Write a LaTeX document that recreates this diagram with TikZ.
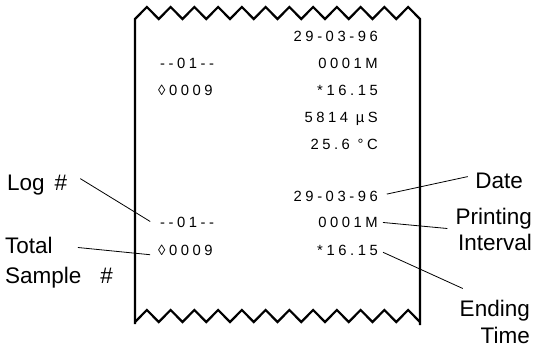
\documentclass[tikz,border=0pt]{standalone}
\usepackage{fontspec}
\setmainfont{Liberation Sans}
\newfontfamily\tapefont[LetterSpace=24]{Liberation Sans}
\usetikzlibrary{positioning}

\tikzset{
  paper/.style={line width=2.2pt, line join=miter},
  printed/.style={font=\tapefont\fontsize{14.8}{17}\selectfont, inner sep=0pt, text height=10.6pt, text depth=0pt},
  callout/.style={font=\fontsize{22.5}{26}\selectfont, inner sep=0pt, text height=16.1pt, text depth=0pt},
  leader/.style={line width=0.8pt}
}

\begin{document}
\begin{tikzpicture}[x=1pt, y=-1pt]
    \useasboundingbox (0,0) rectangle (535,349);

    % paper strip with torn edges
    \draw[paper] (135,324) -- (135,19)
        \foreach \i in {0,...,11} { -- ({146.875+23.75*\i},7) -- ({158.75+23.75*\i},19) }
        -- (420,325);
    \draw[paper] (135,322)
        \foreach \i in {0,...,11} { -- ({146.875+23.75*\i},310) -- ({158.75+23.75*\i},322) };

    % first record
    \node[printed, anchor=east] at (378,36) (date1) {29-03-96};
    \node[printed, anchor=east] at (378,63) (int1) {0001M};
    \node[printed, anchor=east] at (378,90) (end1) {*16.15};
    \node[printed, anchor=east] at (378,117) (cond) {5814 µS};
    \node[printed, anchor=east] at (378,144) (temp) {25.6 °C};
    \node[printed, anchor=west] at (160,63) (log1) {--01--};
    \node[printed, anchor=west] at (158,90) (tot1) {◊0009};

    % second record
    \node[printed, anchor=east] at (378,196) (date2) {29-03-96};
    \node[printed, anchor=east] at (378,222) (int2) {0001M};
    \node[printed, anchor=east] at (378,250) (end2) {*16.15};
    \node[printed, anchor=west] at (160,222) (log2) {--01--};
    \node[printed, anchor=west] at (158,250) (tot2) {◊0009};

    % labels on the left
    \node[callout, anchor=west] at (7,182) (loglbl) {Log\hspace{10pt}\#};
    \node[callout, anchor=west] at (5,245) (totlbl) {Total};
    \node[callout, anchor=west] at (5,275) (samplbl) {Sample\hspace{19pt}\#};

    % labels on the right
    \node[callout, anchor=east] at (523,180) (datelbl) {Date};
    \node[callout, anchor=east] at (532,216) (prtlbl) {Printing};
    \node[callout, anchor=east] at (532,242) (intlbl) {Interval};
    \node[callout, anchor=east] at (530,308) (endlbl) {Ending};
    \node[callout, anchor=east] at (530,335) (timelbl) {Time};

    % leader lines
    \draw[leader, shorten <=15pt, shorten >=11.5pt] ([yshift=3pt]loglbl.north east) -- (log2.south west);
    \draw[leader, shorten <=25pt, shorten >=8pt] (totlbl.east) -- (tot2.south west);
    \draw[leader, shorten <=9pt, shorten >=7.5pt] (date2.east) -- ([yshift=5pt]datelbl.west);
    \draw[leader, shorten <=5pt, shorten >=8pt] (int2.east) -- ([yshift=-5pt]prtlbl.south west);
    \draw[leader, shorten <=5.5pt, shorten >=3pt] (end2.east) -- ([xshift=6pt, yshift=10pt]endlbl.north west);
\end{tikzpicture}
\end{document}
